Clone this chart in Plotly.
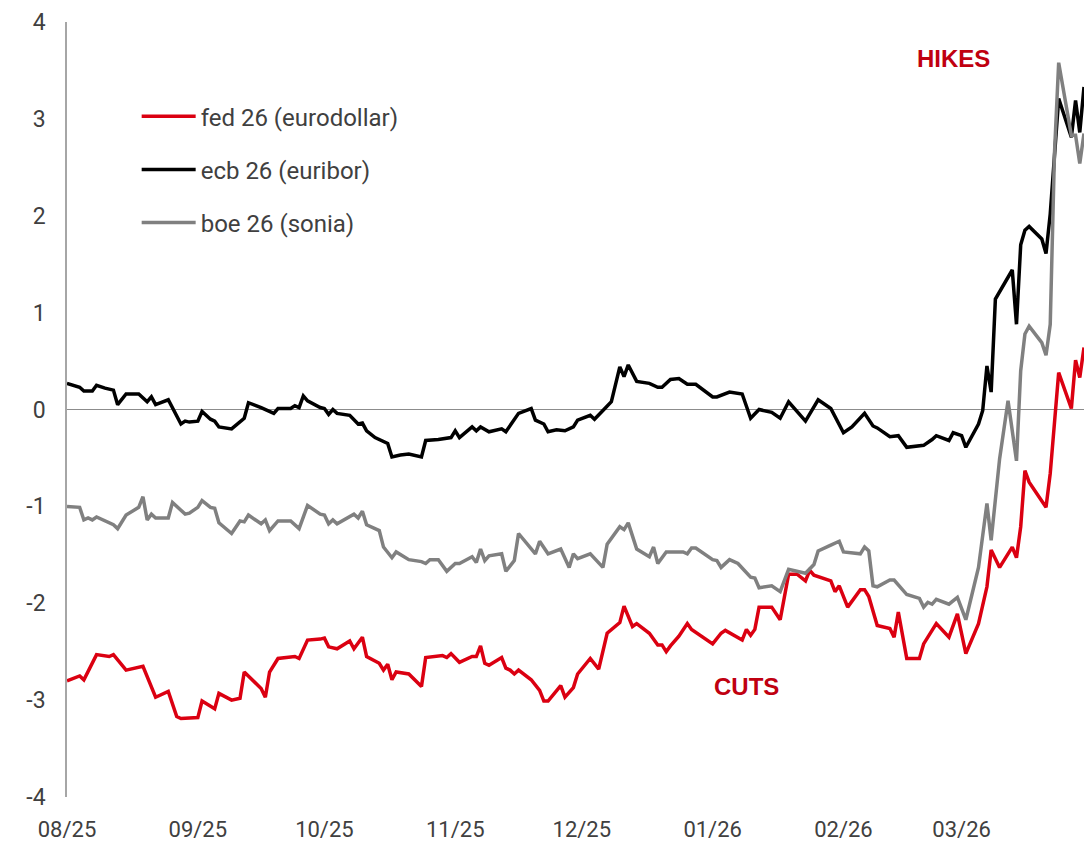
import plotly.graph_objects as go

# ---------------- data ----------------
fed_dates = [
    "2025-08-01", "2025-08-04", "2025-08-05", "2025-08-08", "2025-08-11", "2025-08-12", "2025-08-15",
    "2025-08-19", "2025-08-22", "2025-08-25", "2025-08-27", "2025-08-28", "2025-09-01", "2025-09-02",
    "2025-09-05", "2025-09-06", "2025-09-09", "2025-09-11", "2025-09-12", "2025-09-16", "2025-09-17",
    "2025-09-18", "2025-09-20", "2025-09-24", "2025-09-25", "2025-09-27", "2025-09-30", "2025-10-01",
    "2025-10-02", "2025-10-04", "2025-10-07", "2025-10-08", "2025-10-10", "2025-10-11", "2025-10-14",
    "2025-10-15", "2025-10-16", "2025-10-17", "2025-10-18", "2025-10-21", "2025-10-24", "2025-10-25",
    "2025-10-29", "2025-10-30", "2025-10-31", "2025-11-02", "2025-11-05", "2025-11-06", "2025-11-07",
    "2025-11-08", "2025-11-09", "2025-11-12", "2025-11-13", "2025-11-14", "2025-11-15", "2025-11-16",
    "2025-11-19", "2025-11-21", "2025-11-22", "2025-11-23", "2025-11-26", "2025-11-27", "2025-11-29",
    "2025-11-30", "2025-12-03", "2025-12-05", "2025-12-07", "2025-12-10", "2025-12-11", "2025-12-13",
    "2025-12-14", "2025-12-17", "2025-12-19", "2025-12-20", "2025-12-21", "2025-12-22", "2025-12-24",
    "2025-12-26", "2025-12-27", "2026-01-01", "2026-01-03", "2026-01-04", "2026-01-08", "2026-01-09",
    "2026-01-10", "2026-01-11", "2026-01-12", "2026-01-15", "2026-01-17", "2026-01-19", "2026-01-21",
    "2026-01-23", "2026-01-24", "2026-01-25", "2026-01-29", "2026-01-30", "2026-01-31", "2026-02-02",
    "2026-02-05", "2026-02-06", "2026-02-07", "2026-02-09", "2026-02-12", "2026-02-13", "2026-02-14",
    "2026-02-16", "2026-02-19", "2026-02-20", "2026-02-23", "2026-02-26", "2026-02-28", "2026-03-02",
    "2026-03-05", "2026-03-07", "2026-03-08", "2026-03-10", "2026-03-13", "2026-03-14", "2026-03-15",
    "2026-03-16", "2026-03-17", "2026-03-21", "2026-03-22", "2026-03-24", "2026-03-27", "2026-03-28",
    "2026-03-29", "2026-03-30",
]
fed_values = [
    -2.80, -2.75, -2.79, -2.53, -2.55, -2.53, -2.69,
    -2.65, -2.97, -2.91, -3.17, -3.19, -3.18, -3.01,
    -3.09, -2.93, -3.00, -2.98, -2.71, -2.88, -2.97,
    -2.71, -2.57, -2.55, -2.57, -2.38, -2.37, -2.36,
    -2.45, -2.47, -2.39, -2.47, -2.35, -2.55, -2.62,
    -2.69, -2.63, -2.79, -2.71, -2.73, -2.86, -2.56,
    -2.54, -2.56, -2.52, -2.61, -2.55, -2.55, -2.44,
    -2.62, -2.64, -2.56, -2.67, -2.69, -2.73, -2.69,
    -2.79, -2.90, -3.01, -3.01, -2.85, -2.97, -2.87,
    -2.73, -2.57, -2.68, -2.31, -2.20, -2.03, -2.24,
    -2.21, -2.31, -2.43, -2.43, -2.50, -2.44, -2.34,
    -2.21, -2.27, -2.42, -2.31, -2.28, -2.38, -2.27,
    -2.33, -2.27, -2.04, -2.04, -2.17, -1.70, -1.70,
    -1.77, -1.66, -1.71, -1.77, -1.88, -1.82, -2.04,
    -1.86, -1.86, -1.93, -2.23, -2.26, -2.35, -2.09,
    -2.57, -2.57, -2.42, -2.21, -2.35, -2.11, -2.52,
    -2.21, -1.83, -1.45, -1.63, -1.42, -1.53, -1.21,
    -0.63, -0.75, -1.01, -0.66, 0.38, 0.01, 0.51,
    0.33, 0.64,
]

ecb_dates = [
    "2025-08-01", "2025-08-04", "2025-08-05", "2025-08-07", "2025-08-08", "2025-08-10", "2025-08-12",
    "2025-08-13", "2025-08-15", "2025-08-18", "2025-08-20", "2025-08-21", "2025-08-22", "2025-08-25",
    "2025-08-28", "2025-08-29", "2025-08-30", "2025-09-01", "2025-09-02", "2025-09-04", "2025-09-05",
    "2025-09-06", "2025-09-09", "2025-09-12", "2025-09-13", "2025-09-16", "2025-09-19", "2025-09-20",
    "2025-09-23", "2025-09-24", "2025-09-25", "2025-09-26", "2025-09-27", "2025-09-30", "2025-10-01",
    "2025-10-02", "2025-10-03", "2025-10-04", "2025-10-07", "2025-10-09", "2025-10-10", "2025-10-11",
    "2025-10-13", "2025-10-16", "2025-10-17", "2025-10-19", "2025-10-21", "2025-10-24", "2025-10-25",
    "2025-10-28", "2025-10-31", "2025-11-01", "2025-11-02", "2025-11-04", "2025-11-05", "2025-11-06",
    "2025-11-07", "2025-11-09", "2025-11-12", "2025-11-13", "2025-11-15", "2025-11-16", "2025-11-19",
    "2025-11-20", "2025-11-22", "2025-11-23", "2025-11-25", "2025-11-27", "2025-11-29", "2025-11-30",
    "2025-12-03", "2025-12-04", "2025-12-06", "2025-12-08", "2025-12-10", "2025-12-11", "2025-12-12",
    "2025-12-14", "2025-12-17", "2025-12-19", "2025-12-20", "2025-12-22", "2025-12-24", "2025-12-26",
    "2025-12-28", "2026-01-01", "2026-01-02", "2026-01-05", "2026-01-08", "2026-01-10", "2026-01-12",
    "2026-01-15", "2026-01-17", "2026-01-19", "2026-01-23", "2026-01-26", "2026-01-29", "2026-02-01",
    "2026-02-03", "2026-02-06", "2026-02-08", "2026-02-09", "2026-02-12", "2026-02-14", "2026-02-16",
    "2026-02-20", "2026-02-22", "2026-02-23", "2026-02-26", "2026-02-27", "2026-03-01", "2026-03-02",
    "2026-03-05", "2026-03-06", "2026-03-07", "2026-03-08", "2026-03-09", "2026-03-13", "2026-03-14",
    "2026-03-15", "2026-03-16", "2026-03-17", "2026-03-20", "2026-03-21", "2026-03-22", "2026-03-24",
    "2026-03-27", "2026-03-28", "2026-03-29", "2026-03-30",
]
ecb_values = [
    0.27, 0.23, 0.19, 0.19, 0.25, 0.22, 0.20,
    0.05, 0.16, 0.16, 0.08, 0.13, 0.05, 0.10,
    -0.15, -0.12, -0.13, -0.12, -0.02, -0.10, -0.12,
    -0.18, -0.20, -0.09, 0.07, 0.02, -0.04, 0.01,
    0.01, 0.04, 0.02, 0.14, 0.09, 0.02, 0.01,
    -0.05, 0.00, -0.04, -0.06, -0.15, -0.14, -0.22,
    -0.29, -0.35, -0.49, -0.47, -0.46, -0.49, -0.32,
    -0.31, -0.29, -0.22, -0.29, -0.22, -0.18, -0.22,
    -0.18, -0.23, -0.20, -0.23, -0.10, -0.04, 0.01,
    -0.11, -0.15, -0.23, -0.21, -0.22, -0.18, -0.11,
    -0.06, -0.10, -0.01, 0.08, 0.44, 0.34, 0.46,
    0.29, 0.27, 0.23, 0.23, 0.31, 0.32, 0.26,
    0.26, 0.13, 0.13, 0.18, 0.16, -0.09, 0.00,
    -0.03, -0.09, 0.08, -0.12, 0.10, 0.01, -0.24,
    -0.18, -0.04, -0.17, -0.19, -0.28, -0.27, -0.39,
    -0.37, -0.31, -0.27, -0.32, -0.24, -0.27, -0.39,
    -0.15, -0.01, 0.45, 0.18, 1.14, 1.44, 0.88,
    1.70, 1.85, 1.89, 1.76, 1.61, 2.02, 3.21,
    2.81, 3.19, 2.86, 3.33,
]

boe_dates = [
    "2025-08-01", "2025-08-04", "2025-08-05", "2025-08-06", "2025-08-07", "2025-08-08", "2025-08-12",
    "2025-08-13", "2025-08-15", "2025-08-18", "2025-08-19", "2025-08-20", "2025-08-21", "2025-08-22",
    "2025-08-25", "2025-08-26", "2025-08-29", "2025-08-30", "2025-09-01", "2025-09-02", "2025-09-04",
    "2025-09-05", "2025-09-06", "2025-09-09", "2025-09-11", "2025-09-12", "2025-09-13", "2025-09-16",
    "2025-09-17", "2025-09-18", "2025-09-20", "2025-09-23", "2025-09-25", "2025-09-27", "2025-09-30",
    "2025-10-01", "2025-10-02", "2025-10-03", "2025-10-04", "2025-10-08", "2025-10-09", "2025-10-10",
    "2025-10-11", "2025-10-14", "2025-10-15", "2025-10-17", "2025-10-18", "2025-10-21", "2025-10-24",
    "2025-10-25", "2025-10-26", "2025-10-28", "2025-10-30", "2025-11-01", "2025-11-02", "2025-11-05",
    "2025-11-06", "2025-11-07", "2025-11-08", "2025-11-09", "2025-11-12", "2025-11-13", "2025-11-15",
    "2025-11-16", "2025-11-20", "2025-11-21", "2025-11-23", "2025-11-26", "2025-11-28", "2025-11-29",
    "2025-11-30", "2025-12-03", "2025-12-06", "2025-12-07", "2025-12-10", "2025-12-11", "2025-12-12",
    "2025-12-14", "2025-12-17", "2025-12-18", "2025-12-19", "2025-12-21", "2025-12-25", "2025-12-26",
    "2025-12-27", "2025-12-28", "2026-01-01", "2026-01-02", "2026-01-03", "2026-01-05", "2026-01-07",
    "2026-01-10", "2026-01-11", "2026-01-12", "2026-01-15", "2026-01-17", "2026-01-19", "2026-01-23",
    "2026-01-25", "2026-01-26", "2026-01-29", "2026-01-31", "2026-02-01", "2026-02-05", "2026-02-06",
    "2026-02-07", "2026-02-08", "2026-02-09", "2026-02-12", "2026-02-13", "2026-02-16", "2026-02-19",
    "2026-02-20", "2026-02-21", "2026-02-22", "2026-02-23", "2026-02-26", "2026-02-28", "2026-03-02",
    "2026-03-05", "2026-03-07", "2026-03-08", "2026-03-10", "2026-03-12", "2026-03-14", "2026-03-15",
    "2026-03-16", "2026-03-17", "2026-03-20", "2026-03-21", "2026-03-22", "2026-03-23", "2026-03-24",
    "2026-03-27", "2026-03-28", "2026-03-29", "2026-03-30",
]
boe_values = [
    -1.00, -1.01, -1.14, -1.12, -1.14, -1.11, -1.19,
    -1.23, -1.09, -1.01, -0.90, -1.14, -1.08, -1.12,
    -1.12, -0.96, -1.08, -1.07, -1.01, -0.94, -1.01,
    -1.02, -1.17, -1.28, -1.15, -1.16, -1.09, -1.18,
    -1.14, -1.25, -1.15, -1.15, -1.23, -0.99, -1.08,
    -1.09, -1.18, -1.14, -1.18, -1.08, -1.12, -1.05,
    -1.19, -1.25, -1.42, -1.53, -1.47, -1.55, -1.57,
    -1.59, -1.55, -1.55, -1.67, -1.59, -1.59, -1.52,
    -1.58, -1.44, -1.56, -1.51, -1.49, -1.67, -1.56,
    -1.28, -1.49, -1.36, -1.49, -1.44, -1.63, -1.49,
    -1.54, -1.49, -1.63, -1.39, -1.21, -1.24, -1.17,
    -1.44, -1.52, -1.42, -1.59, -1.47, -1.47, -1.49,
    -1.43, -1.43, -1.55, -1.56, -1.63, -1.55, -1.59,
    -1.73, -1.74, -1.84, -1.82, -1.88, -1.65, -1.69,
    -1.60, -1.46, -1.40, -1.36, -1.47, -1.49, -1.42,
    -1.46, -1.82, -1.83, -1.76, -1.76, -1.91, -1.95,
    -2.04, -1.99, -2.01, -1.96, -2.01, -1.94, -2.17,
    -1.63, -0.97, -1.35, -0.51, 0.09, -0.53, 0.40,
    0.78, 0.86, 0.69, 0.56, 0.88, 2.64, 3.58,
    2.83, 2.83, 2.54, 2.85,
]

series_names = ["fed 26 (eurodollar)", "ecb 26 (euribor)", "boe 26 (sonia)"]
series_colors = ["#DB0011", "#000000", "#808080"]

y_ticks = [-4, -3, -2, -1, 0, 1, 2, 3, 4]
y_tick_labels = ["-4", "-3", "-2", "-1", "0", "1", "2", "3", "4"]
x_start, x_end = "2025-08-01", "2026-03-30"

annot_hikes = ("HIKES", "2026-02-27", 3.62)
annot_cuts = ("CUTS", "2026-01-09", -2.86)

# ---------------- figure ----------------
TEXT = "#404040"
FONT = "Roboto, 'Liberation Sans', Arial, sans-serif"

fig = go.Figure()
for name, xs, ys, col in zip(series_names,
                             [fed_dates, ecb_dates, boe_dates],
                             [fed_values, ecb_values, boe_values],
                             series_colors):
    fig.add_trace(go.Scatter(x=xs, y=ys, mode="lines", name=name, legendgroup=name,
                             line=dict(color=col, width=3.5)))

for text, xd, yv in [annot_hikes, annot_cuts]:
    fig.add_annotation(x=xd, y=yv, text=f"<b>{text}</b>", showarrow=False,
                       font=dict(family="'Liberation Sans', Arial, sans-serif", size=24, color="#C00010"))

fig.update_layout(
    autosize=True,
    margin=dict(l=67, r=0, t=22, b=44),
    plot_bgcolor="white", paper_bgcolor="white",
    font=dict(family=FONT, size=22, color=TEXT),
    showlegend=True,
    legend=dict(x=0.0685, y=0.907, xanchor="left", yanchor="top",
                bgcolor="rgba(0,0,0,0)", borderwidth=0,
                font=dict(family=FONT, size=24, color=TEXT),
                tracegroupgap=19, itemwidth=54),
)
fig.update_xaxes(range=[x_start, x_end], type="date", tickformat="%m/%y",
                 dtick="M1", tick0="2025-08-01", showgrid=False, zeroline=False,
                 showline=False, ticks="", ticklabelstandoff=17, automargin=False,
                 tickfont=dict(family=FONT, size=22, color=TEXT))
fig.update_yaxes(range=[-4, 4], tickvals=y_ticks, ticktext=y_tick_labels, showgrid=False,
                 zeroline=True, zerolinecolor="#8C8C8C", zerolinewidth=1,
                 showline=True, linecolor="#A6A6A6", linewidth=1.5, ticks="",
                 ticklabelstandoff=15, automargin=False,
                 tickfont=dict(family=FONT, size=23, color=TEXT))

# The chart div is pinned to the page's top-left corner so the page's default
# body margin does not offset or rescale it; it fills the 1084x841 window.
fig.write_html("out.html",
               config={"displayModeBar": False},
               default_width="1084px",
               default_height="841px;position:absolute;left:0;top:0")
